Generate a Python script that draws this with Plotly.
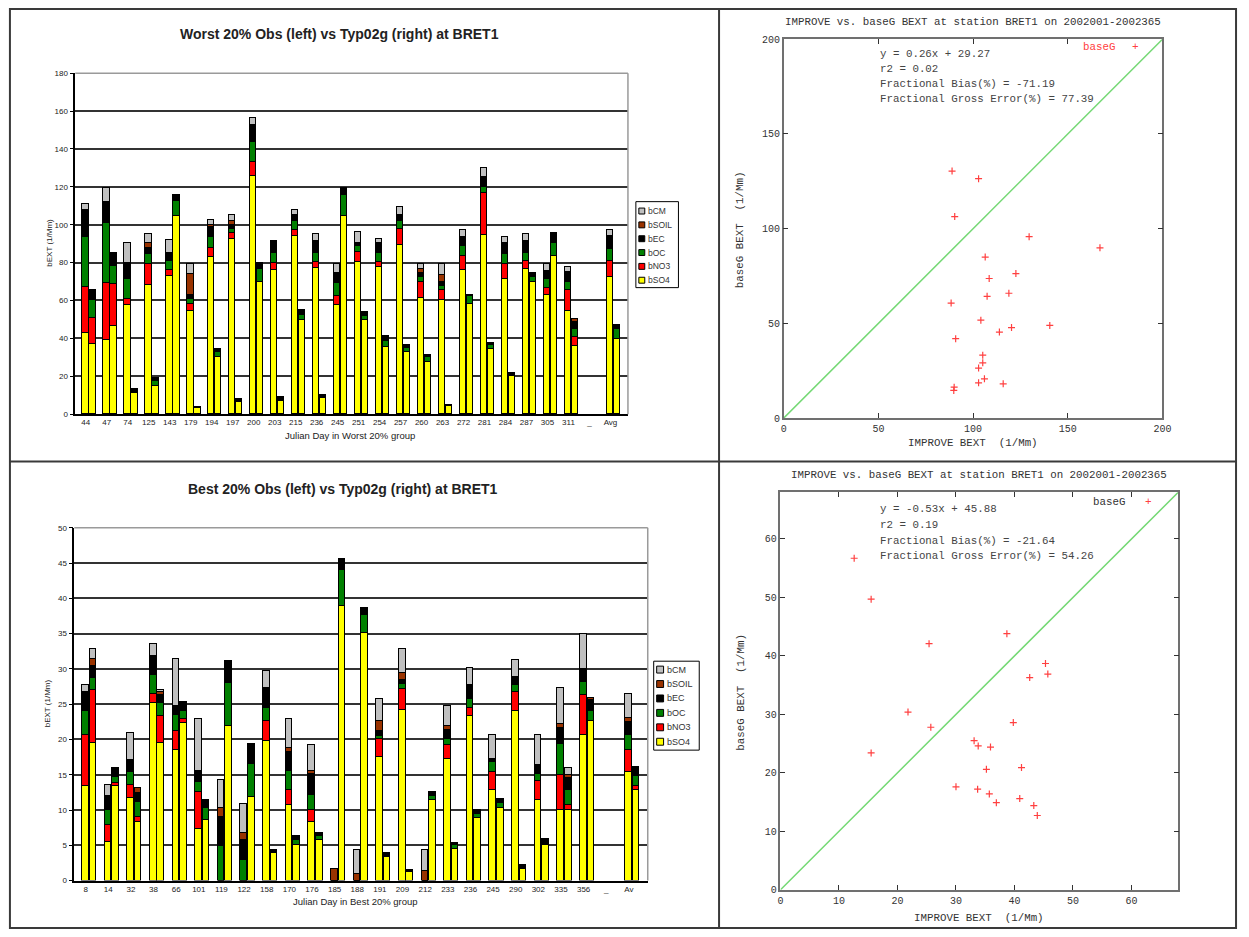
import plotly.graph_objects as go

W, H = 1249, 937


def px(x):
    return x / W


def py(y):
    return 1 - y / H


# ---------------- Worst 20% days: observed (left bar) and Typ02g model (right bar)
worst_days = ["44", "47", "74", "125", "143", "179", "194", "197", "200", "203", "215", "236", "245",
              "251", "254", "257", "260", "263", "272", "281", "284", "287", "305", "311", "_", "Avg"]

worst_obs_so4 = [43, 39, 57.7, 68.3, 73, 54.3, 82.6, 92.2, 125.7, 76, 93.9, 76.9, 57.4, 80.3, 77.4, 89, 61.2, 60, 76, 94.4, 71.3, 76.5, 63, 54.4, None, 72.2]
worst_obs_no3 = [24, 30, 2.8, 10.8, 3.2, 4, 5.2, 3.5, 7.3, 3.5, 3, 3.4, 4.9, 5.3, 2.6, 8.4, 8.4, 5.6, 7.5, 22.5, 7.8, 4.4, 3.4, 10.8, None, 8.7]
worst_obs_oc = [26.5, 32, 10.5, 5.2, 4.7, 2.6, 5.6, 2, 10.5, 5.7, 5.2, 4.9, 6.7, 3.1, 5.2, 4.3, 2.6, 1.7, 5.2, 3.1, 5.2, 4.3, 4.9, 4.4, None, 6.4]
worst_obs_ec = [14, 11, 8.7, 3.2, 4.3, 1.7, 5.4, 1.8, 9.2, 6.1, 2.8, 6.1, 5.3, 1.7, 5.2, 3.2, 2.1, 2.3, 4.9, 5.2, 6.1, 6.1, 4.4, 5.2, None, 6]
worst_obs_soil = [0, 0, 0, 2.5, 0, 11.3, 1.2, 2.2, 0, 0, 0, 0, 0, 0, 0, 0, 2.2, 3.8, 0, 0, 0, 0, 0, 0, None, 0.5]
worst_obs_cm = [3.5, 7.5, 10.3, 4.8, 6.6, 5.2, 2.3, 3.2, 3.5, 0, 2.6, 3.8, 4.8, 5.6, 1.8, 4.1, 2.6, 5.7, 3.4, 4.4, 3.2, 3.8, 3.4, 2.9, None, 3.5]

worst_mod_so4 = [37, 46.6, 10.8, 14.8, 104.7, 3, 29.9, 6.4, 69.6, 6.6, 49.6, 8.2, 104.7, 49.6, 35.3, 32.7, 27.5, 4.3, 57.9, 34.4, 20, 69.6, 83.5, 35.7, None, 39.5]
worst_mod_no3 = [13.5, 22, 0, 0, 0, 0, 0, 0, 0, 0, 0, 0, 0, 0, 0, 0, 0, 0, 0, 0, 0, 0, 0, 4.8, None, 0]
worst_mod_oc = [9.5, 9.6, 0.5, 2.6, 7.5, 0, 2.8, 0, 6.9, 0, 2.6, 0, 11, 2.2, 3.3, 2.1, 2.4, 0, 4.2, 2.1, 0, 2.6, 6.9, 4.2, None, 5.2]
worst_mod_ec = [5, 6, 2.1, 1.7, 3.5, 0.5, 1.6, 1.4, 3.2, 2.1, 2.6, 1.7, 3.8, 1.8, 2.3, 1.4, 1.4, 0.6, 0.5, 0.9, 1.7, 2.1, 5.3, 4, None, 2.3]
worst_mod_soil = [0.5, 0.7, 0, 0, 0, 0, 0, 0, 0, 0, 0, 0, 0, 0, 0, 0, 0, 0, 0, 0, 0, 0, 0, 1.2, None, 0]
worst_mod_cm = [0, 0, 0, 0, 0, 0, 0, 0, 0, 0, 0, 0, 0, 0, 0, 0, 0, 0, 0, 0, 0, 0, 0, 0, None, 0]

# ---------------- Best 20% days
best_days = ["8", "14", "32", "38", "66", "101", "119", "122", "158", "170", "176", "185", "188",
             "191", "209", "212", "233", "236", "245", "290", "302", "335", "356", "_", "Av"]

best_obs_so4 = [13.5, 5.5, 11.8, 25.2, 18.5, 7.4, 0, 0, 19.8, 10.8, 8.4, 0, 0, 17.6, 24.2, 0, 17.3, 23.4, 12.9, 24, 11.5, 10, 20.7, None, 15.4]
best_obs_no3 = [7.2, 2.4, 1.8, 1.3, 2.8, 5.2, 0, 0, 2.8, 2.1, 1.6, 0, 0, 2.5, 3, 0, 2, 1.1, 2.5, 2.7, 2.7, 5, 5.6, None, 3.1]
best_obs_oc = [3.4, 2.1, 1.8, 2.6, 2.2, 1.4, 4.9, 2.9, 1.9, 2.6, 2.1, 0, 0, 0.4, 0.7, 0, 0.8, 1.2, 1.4, 1, 1, 4.4, 1.9, None, 2.2]
best_obs_ec = [2.7, 2, 1.7, 2.8, 1.3, 1.5, 4.1, 2.9, 2.8, 2.7, 3.1, 0, 0, 0.8, 0.6, 0, 1.3, 2.1, 0.5, 1.2, 1.2, 2.3, 1.8, None, 1.8]
best_obs_soil = [0, 0, 0, 0, 0, 0, 1.3, 1, 0, 0.6, 0.4, 1.7, 0.9, 1.4, 0.9, 1.4, 0.6, 0, 0, 0, 0, 0.5, 0, None, 0.6]
best_obs_cm = [1, 1.6, 3.8, 1.7, 6.7, 7.5, 4, 4.1, 2.5, 4.2, 3.6, 0, 3.5, 3.1, 3.4, 3, 2.8, 2.3, 3.3, 2.4, 4.2, 5.1, 5, None, 3.4]

best_mod_so4 = [19.5, 13.4, 8.4, 19.5, 22.3, 8.6, 22, 11.9, 3.9, 5.1, 5.8, 39, 35.1, 3.4, 1.3, 11.4, 4.5, 8.9, 10.3, 1.7, 5.1, 10, 22.6, None, 12.9]
best_mod_no3 = [7.5, 0.4, 0.7, 3.9, 0.6, 0, 0, 0, 0, 0, 0, 0, 0, 0, 0, 0, 0, 0, 0, 0, 0, 0.7, 0, None, 0.6]
best_mod_oc = [1.8, 0.9, 2.1, 1.8, 1.2, 1.7, 6, 4.7, 0, 0.7, 0.6, 5.1, 2.6, 0, 0, 0.6, 0.6, 0.5, 0.7, 0, 0, 2.2, 1.5, None, 1.3]
best_mod_ec = [1.6, 1.3, 1.3, 1.2, 1.3, 1.1, 3.1, 2.8, 0.5, 0.5, 0.4, 1.5, 1, 0.6, 0.3, 0.6, 0.3, 0.7, 0.6, 0.5, 0.8, 1.6, 1.5, None, 1.4]
best_mod_soil = [1.1, 0, 0.6, 0.4, 0, 0, 0, 0, 0, 0, 0, 0, 0, 0, 0, 0, 0, 0, 0, 0, 0, 0.5, 0.3, None, 0]
best_mod_cm = [1.4, 0, 0, 0.3, 0, 0, 0, 0, 0, 0, 0, 0, 0, 0, 0, 0, 0, 0, 0, 0, 0, 1, 0, None, 0]

# ---------------- Scatter: IMPROVE vs baseG total extinction
worst_improve = [88.9, 102.9, 90.3, 129.6, 167, 106.4, 122.6, 108.5, 118.9, 107.4, 88.4, 104.1,
                 140.5, 120.3, 113.9, 90.8, 105.1, 105.1, 102.9, 106, 102.9, 115.9, 90, 89.8]
worst_baseg = [130.4, 126.4, 106.4, 95.8, 89.9, 85, 76.3, 73.7, 65.9, 64.3, 60.7, 51.7,
               48.9, 47.8, 45.4, 41.9, 33.2, 29.2, 26.4, 20.7, 18.6, 18.1, 16.3, 14.6]

best_improve = [12.6, 15.5, 15.5, 21.8, 25.4, 25.7, 30, 33.1, 33.8, 33.7, 35.9, 35.2,
                35.7, 36.9, 38.7, 39.8, 41.2, 40.9, 42.6, 43.3, 43.9, 45.3, 45.7]
best_baseg = [56.7, 49.7, 23.4, 30.4, 42.1, 27.8, 17.6, 25.5, 24.6, 17.2, 24.4, 20.6,
              16.4, 14.9, 43.8, 28.6, 20.9, 15.6, 36.3, 14.4, 12.7, 38.7, 36.9]

worst_stats = ["y = 0.26x + 29.27", "r2 = 0.02", "Fractional Bias(%) = -71.19", "Fractional Gross Error(%) = 77.39"]
best_stats = ["y = -0.53x + 45.88", "r2 = 0.19", "Fractional Bias(%) = -21.64", "Fractional Gross Error(%) = 54.26"]

worst_range = [0, 200]
best_range = [0, 68]

# stacking order (bottom to top) and colours of the species
species = ["bSO4", "bNO3", "bOC", "bEC", "bSOIL", "bCM"]
species_colors = ["#ffff00", "#ff0000", "#008000", "#000000", "#993300", "#c0c0c0"]

worst_obs = [worst_obs_so4, worst_obs_no3, worst_obs_oc, worst_obs_ec, worst_obs_soil, worst_obs_cm]
worst_mod = [worst_mod_so4, worst_mod_no3, worst_mod_oc, worst_mod_ec, worst_mod_soil, worst_mod_cm]
best_obs = [best_obs_so4, best_obs_no3, best_obs_oc, best_obs_ec, best_obs_soil, best_obs_cm]
best_mod = [best_mod_so4, best_mod_no3, best_mod_oc, best_mod_ec, best_mod_soil, best_mod_cm]

SANS = "Liberation Sans, Arial, sans-serif"
MONO = "Liberation Mono, DejaVu Sans Mono, monospace"
RED = "#ff4040"

fig = go.Figure()


def add_stacks(days, obs, mod, xa, ya):
    # each day takes three slots: gap, observed bar, modelled bar
    n = len(days)
    obs_x = [3 * i + 1 for i in range(n)]
    mod_x = [3 * i + 2 for i in range(n)]
    for name, col, o, m in zip(species, species_colors, obs, mod):
        fig.add_trace(go.Bar(
            x=obs_x + mod_x, y=o + m, name=name, width=0.88,
            marker=dict(color=col, line=dict(color="#000000", width=1)),
            xaxis=xa, yaxis=ya, showlegend=False, hoverinfo="skip"))
    return obs_x, 3 * n + 0.5


top_ticks, top_end = add_stacks(worst_days, worst_obs, worst_mod, "x", "y")
bot_ticks, bot_end = add_stacks(best_days, best_obs, best_mod, "x2", "y2")

# scatter panels: 1:1 line plus the paired totals
for xs, ys, rng, xa, ya in [(worst_improve, worst_baseg, worst_range, "x3", "y3"),
                            (best_improve, best_baseg, best_range, "x4", "y4")]:
    fig.add_trace(go.Scatter(x=rng, y=rng, mode="lines", line=dict(color="#74d874", width=1.5),
                             xaxis=xa, yaxis=ya, showlegend=False, hoverinfo="skip"))
    fig.add_trace(go.Scatter(x=xs, y=ys, mode="markers", name="baseG",
                             marker=dict(symbol="cross-thin", size=5, line=dict(color=RED, width=1.2)),
                             xaxis=xa, yaxis=ya, showlegend=False, hoverinfo="skip"))

bar_y = dict(showgrid=True, gridcolor="#333333", gridwidth=1.8, zeroline=False,
             showline=True, linecolor="#000000", linewidth=1.5,
             ticks="outside", ticklen=4, tickcolor="#000000",
             tickfont=dict(family=SANS, size=8, color="#222"))
bar_x = dict(showgrid=False, zeroline=False, showline=True, linecolor="#000000", linewidth=1.5,
             ticks="", tickfont=dict(family=SANS, size=8, color="#222"))
sc_axis = dict(showgrid=False, zeroline=False, showline=True, mirror="allticks",
               linecolor="#707070", linewidth=1.5, ticks="inside", ticklen=5, tickcolor="#333",
               tickfont=dict(family=MONO, size=10, color="#333"))

fig.update_layout(
    width=W, height=H, margin=dict(l=0, r=0, t=0, b=0),
    paper_bgcolor="white", plot_bgcolor="white", barmode="stack", bargap=0,
    font=dict(family=SANS),
    xaxis=dict(domain=[px(73), px(631)], range=[-0.5, top_end], tickvals=top_ticks,
               ticktext=worst_days, anchor="y", **bar_x),
    yaxis=dict(domain=[py(415), py(70)], range=[0, 180], dtick=20, anchor="x", **bar_y),
    xaxis2=dict(domain=[px(72), px(651)], range=[-0.5, bot_end], tickvals=bot_ticks,
                ticktext=best_days, anchor="y2", **bar_x),
    yaxis2=dict(domain=[py(887), py(530)], range=[0, 50], dtick=5, anchor="x2", **bar_y),
    xaxis3=dict(domain=[px(788.3), px(1170.7)], range=worst_range, dtick=50, anchor="y3", **sc_axis),
    yaxis3=dict(domain=[py(419), py(35.7)], range=worst_range, dtick=50, anchor="x3", **sc_axis),
    xaxis4=dict(domain=[px(785), px(1186.7)], range=best_range, dtick=10, anchor="y4", **sc_axis),
    yaxis4=dict(domain=[py(896.3), py(494)], range=best_range, dtick=10, anchor="x4", **sc_axis),
)

shapes = []
# grey plot-area frames of the bar charts (top and right edges)
for xr, yr in [("x domain", "y domain"), ("x2 domain", "y2 domain")]:
    shapes.append(dict(type="line", xref=xr, yref=yr, x0=0, x1=1, y0=1, y1=1,
                       line=dict(color="#9a9a9a", width=1.5), layer="above"))
    shapes.append(dict(type="line", xref=xr, yref=yr, x0=1, x1=1, y0=0, y1=1,
                       line=dict(color="#9a9a9a", width=1.5), layer="above"))

# panel frame and dividers
frame = dict(color="#3a3a3a", width=2)
shapes.append(dict(type="rect", xref="paper", yref="paper", x0=px(7), x1=px(1245), y0=py(935), y1=py(5), line=frame))
shapes.append(dict(type="line", xref="paper", yref="paper", x0=px(723), x1=px(723), y0=py(935), y1=py(5), line=frame))
shapes.append(dict(type="line", xref="paper", yref="paper", x0=px(7), x1=px(1245), y0=py(463), y1=py(463), line=frame))

annotations = []


def note(text, x, y, size, xanchor="center", color="#222", family=SANS, angle=0):
    annotations.append(dict(text=text, x=px(x), y=py(y), xref="paper", yref="paper", showarrow=False,
                            xanchor=xanchor, yanchor="middle", textangle=angle,
                            font=dict(family=family, size=size, color=color)))


# legends of the bar charts (top entry = last stacked species)
def legend_box(x0, x1, y0, y1, first_y, step, sw, text_x, size):
    shapes.append(dict(type="rect", xref="paper", yref="paper", x0=px(x0), x1=px(x1), y0=py(y1), y1=py(y0),
                       line=dict(color="#000000", width=1), fillcolor="white"))
    for k, (name, col) in enumerate(zip(reversed(species), reversed(species_colors))):
        yc = first_y + k * step
        shapes.append(dict(type="rect", xref="paper", yref="paper",
                           x0=px(x0 + 3), x1=px(x0 + 3 + sw), y0=py(yc + sw / 2), y1=py(yc - sw / 2),
                           line=dict(color="#000000", width=1), fillcolor=col))
        note(name, text_x, yc, size, xanchor="left", color="#333")


legend_box(639, 682, 200, 287, 209.5, 14, 6, 649, 8.5)
legend_box(657, 703, 665, 755, 673.5, 14.6, 7, 668, 9)

# bar-chart titles
note("<b>Worst 20% Obs (left) vs Typ02g (right) at BRET1</b>", 340, 30, 14)
note("<b>Best 20% Obs (left) vs Typ02g (right) at BRET1</b>", 343, 491, 14)
note("bEXT (1/Mm)", 47, 242, 8, angle=-90)
note("bEXT (1/Mm)", 45, 708, 8, angle=-90)
note("Julian Day in Worst 20% group", 350, 437, 9.5)
note("Julian Day in Best 20% group", 356, 908, 9.5)

# scatter texts
sc_title = "IMPROVE vs. baseG BEXT at station BRET1 on 2002001-2002365"
note(sc_title, 979, 18, 10.8, family=MONO, color="#333")
note(sc_title, 985, 477, 10.8, family=MONO, color="#333")
note("IMPROVE BEXT  (1/Mm)", 979, 444, 10.8, family=MONO, color="#333")
note("IMPROVE BEXT  (1/Mm)", 985, 925, 10.8, family=MONO, color="#333")
note("baseG BEXT  (1/Mm)", 744, 228, 10.8, family=MONO, color="#333", angle=-90)
note("baseG BEXT  (1/Mm)", 745, 696, 10.8, family=MONO, color="#333", angle=-90)
for k, line in enumerate(worst_stats):
    note(line, 883, 51 + k * 15.2, 10.8, xanchor="left", family=MONO, color="#444")
for k, line in enumerate(best_stats):
    note(line, 883, 511 + k * 16, 10.8, xanchor="left", family=MONO, color="#444")
note("baseG", 1088, 44, 10.8, xanchor="left", family=MONO, color=RED)
note("+", 1143, 44, 11, family=MONO, color=RED)
note("baseG", 1099, 504, 10.8, xanchor="left", family=MONO, color="#333")
note("+", 1157, 504, 11, family=MONO, color=RED)

fig.update_layout(shapes=shapes, annotations=annotations)
fig.write_html("out.html")
